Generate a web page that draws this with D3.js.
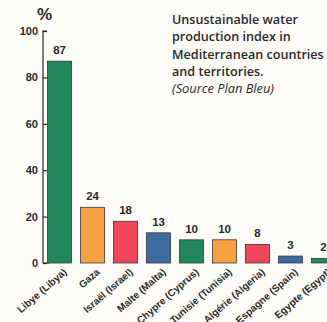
<!DOCTYPE html>
<html>
<head>
<meta charset="utf-8">
<script src="https://cdn.jsdelivr.net/npm/d3@7"></script>
<style>
  html, body { margin: 0; padding: 0; background: #fcfbf7; }
  svg { display: block; }
</style>
</head>
<body>
<svg id="chart" width="327" height="322"></svg>
<script>
// Unsustainable water production index by country / territory
const categories = ["Libye (Libya)", "Gaza", "Israël (Israel)", "Malte (Malta)", "Chypre (Cyprus)",
                    "Tunisie (Tunisia)", "Algérie (Algeria)", "Espagne (Spain)", "Egypte (Egypt)"];
const values = [87, 24, 18, 13, 10, 10, 8, 3, 2];
const barColors = ["#23875c", "#f8a143", "#ef4757", "#3d6c9e", "#23875c",
                   "#f8a143", "#ef4757", "#3d6c9e", "#23875c"];
const yTicks = [0, 20, 40, 60, 80, 100];
const titleLines = ["Unsustainable water", "production index in",
                    "Mediterranean countries", "and territories."];
const sourceLine = "(Source Plan Bleu)";

const svg = d3.select("#chart");
const ink = "#2a2a2a";

const x = d3.scaleBand()
  .domain(categories)
  .range([47.5, 335.6])
  .paddingInner(0.27)
  .paddingOuter(0.0);

const y = d3.scaleLinear().domain([0, 100]).range([263, 31]);

// y axis
const yAxis = d3.axisRight(y).tickValues(yTicks).tickSize(4).tickFormat("");
const gy = svg.append("g").attr("transform", "translate(43,0)").call(yAxis);
gy.select(".domain").attr("stroke", ink).attr("stroke-width", 1.2).attr("d", "M4,31H0V263H7");
gy.selectAll(".tick line").attr("stroke", ink).attr("stroke-width", 1.2);

svg.append("g").selectAll("text")
  .data(yTicks)
  .join("text")
  .attr("x", 38)
  .attr("y", d => y(d) + 4)
  .attr("text-anchor", "end")
  .attr("font-family", "Liberation Sans, Arial, sans-serif")
  .attr("font-weight", "bold")
  .attr("font-size", 11)
  .attr("fill", ink)
  .text(d => d);

svg.append("text")
  .attr("x", 37).attr("y", 20)
  .attr("font-family", "Liberation Sans, Arial, sans-serif")
  .attr("font-weight", "bold")
  .attr("font-size", 17)
  .attr("fill", ink)
  .text("%");

// bars
svg.append("g").selectAll("rect")
  .data(values)
  .join("rect")
  .attr("x", (d, i) => x(categories[i]))
  .attr("y", d => y(d))
  .attr("width", x.bandwidth())
  .attr("height", d => y(0) - y(d))
  .attr("fill", (d, i) => barColors[i])
  .attr("stroke", "#3a3a3a")
  .attr("stroke-width", 0.8);

// value labels
svg.append("g").selectAll("text")
  .data(values)
  .join("text")
  .attr("x", (d, i) => x(categories[i]) + x.bandwidth() / 2)
  .attr("y", d => y(d) - 7)
  .attr("text-anchor", "middle")
  .attr("font-family", "Liberation Sans, Arial, sans-serif")
  .attr("font-weight", "bold")
  .attr("font-size", 11.5)
  .attr("fill", ink)
  .text(d => d);

// category labels, rotated
svg.append("g").selectAll("text")
  .data(categories)
  .join("text")
  .attr("transform", d => `translate(${x(d) + x.bandwidth() / 2 + 8},${y(0) + 10}) rotate(-41)`)
  .attr("text-anchor", "end")
  .attr("font-family", "Liberation Sans, Arial, sans-serif")
  .attr("font-weight", "bold")
  .attr("font-size", 10)
  .attr("fill", ink)
  .text(d => d);

// title block
const title = svg.append("g").attr("font-family", "Open Sans, sans-serif").attr("fill", ink);
title.selectAll("text.t")
  .data(titleLines)
  .join("text")
  .attr("class", "t")
  .attr("x", 172)
  .attr("y", (d, i) => 24 + i * 17.3)
  .attr("font-weight", 600)
  .attr("font-size", 12.6)
  .text(d => d);
title.append("text")
  .attr("x", 172)
  .attr("y", 93)
  .attr("font-style", "italic")
  .attr("font-size", 12.8)
  .text(sourceLine);
</script>
</body>
</html>
